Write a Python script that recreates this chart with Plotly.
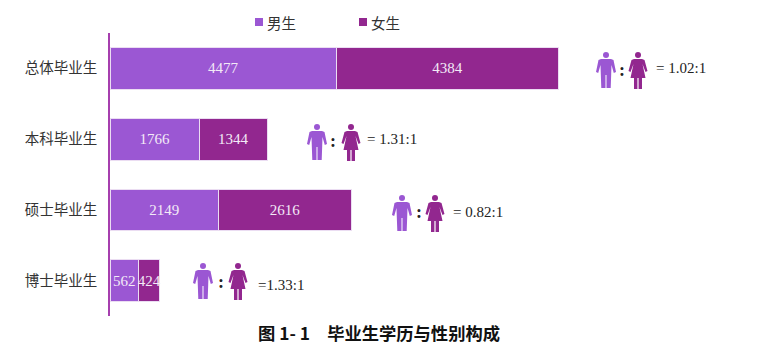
import plotly.graph_objects as go

categories = ["总体毕业生", "本科毕业生", "硕士毕业生", "博士毕业生"]
male = [4477, 1766, 2149, 562]
female = [4384, 1344, 2616, 424]
ratios = ["= 1.02:1", "= 1.31:1", "= 0.82:1", "=1.33:1"]
series_names = ["男生", "女生"]
title = "图 1- 1　毕业生学历与性别构成"

MALE_C = "#9B57D3"
FEMALE_C = "#92278F"
W, H = 763, 354
L, T, B = 110, 33, 38
CJK = "Noto Sans CJK SC"
SERIF = "Liberation Serif"

# decoration layout (pixels): man x, woman x, colon x, colon y, head y, ratio text x, ratio text y
icon_layout = [
    (606, 638, 622, 70, 55, 654, 68),
    (317, 351, 333, 141, 127, 365, 139),
    (402, 435, 419, 212, 198, 451, 212),
    (203, 238, 221, 282, 266, 256, 285),
]
legend_layout = [(255, MALE_C), (359, FEMALE_C)]

def px(x):
    return (x - L) / (W - L)

def py(y):
    return (H - B - y) / (H - B - T)

def path(points, cx, cy):
    parts = []
    for p in points:
        if p == "Z":
            parts.append("Z")
        else:
            parts.append(f"{p[0]} {px(cx + p[1]):.5f},{py(cy + p[2]):.5f}")
    return " ".join(parts)

MAN = [("M", -5, 4), ("L", 5, 4), ("L", 7.5, 5), ("L", 10, 17), ("L", 7.8, 18), ("L", 5.5, 10),
       ("L", 5.2, 19), ("L", 4.7, 33), ("L", 0.5, 33), ("L", 0.5, 20), ("L", -0.5, 20), ("L", -0.5, 33),
       ("L", -4.7, 33), ("L", -5.2, 19), ("L", -5.5, 10), ("L", -7.8, 18), ("L", -10, 17), ("L", -7.5, 5), "Z"]
WOMAN = [("M", -4, 4), ("L", 4, 4), ("L", 6.5, 5), ("L", 9.5, 16), ("L", 7.5, 17), ("L", 4.5, 9),
         ("L", 7.5, 23), ("L", 4, 23), ("L", 4, 34), ("L", 0.6, 34), ("L", 0.6, 23), ("L", -0.6, 23),
         ("L", -0.6, 34), ("L", -4, 34), ("L", -4, 23), ("L", -7.5, 23), ("L", -4.5, 9),
         ("L", -7.5, 17), ("L", -9.5, 16), ("L", -6.5, 5), "Z"]

fig = go.Figure()
fig.add_trace(go.Bar(name=series_names[0], y=categories, x=male, orientation="h", marker_color=MALE_C))
fig.add_trace(go.Bar(name=series_names[1], y=categories, x=female, orientation="h", marker_color=FEMALE_C))
fig.update_traces(
    texttemplate="%{x}", textposition="inside", insidetextanchor="middle", textangle=0,
    constraintext="none", cliponaxis=False,
    textfont=dict(family=SERIF, size=15, color="#F3EAF7"),
    marker_line=dict(color="#EBDDF2", width=1),
)

shapes, annotations = [], []
for (mx, wx, colon, colon_y, hy, tx, ty), ratio in zip(icon_layout, ratios):
    for cx, pts, col in ((mx, MAN, MALE_C), (wx, WOMAN, FEMALE_C)):
        shapes.append(dict(type="path", xref="paper", yref="paper", path=path(pts, cx, hy),
                           fillcolor=col, line_width=0))
        shapes.append(dict(type="circle", xref="paper", yref="paper",
                           x0=px(cx - 3), x1=px(cx + 3), y0=py(hy - 3), y1=py(hy + 3),
                           fillcolor=col, line_width=0))
    annotations.append(dict(xref="paper", yref="paper", x=px(colon), y=py(colon_y), text=":",
                            xanchor="center", yanchor="middle", showarrow=False,
                            font=dict(family=SERIF, size=18, color="#222222", weight="bold")))
    annotations.append(dict(xref="paper", yref="paper", x=px(tx), y=py(ty), text=ratio,
                            xanchor="left", yanchor="middle", showarrow=False,
                            font=dict(family=SERIF, size=15, color="#222222")))

for (lx, col), name in zip(legend_layout, series_names):
    shapes.append(dict(type="rect", xref="paper", yref="paper", x0=px(lx), x1=px(lx + 8),
                       y0=py(18), y1=py(26), fillcolor=col, line_width=0))
    annotations.append(dict(xref="paper", yref="paper", x=px(lx + 10), y=py(23), text=name,
                            xanchor="left", yanchor="middle", showarrow=False,
                            font=dict(family=CJK, size=14.5, color="#333333")))

fig.update_layout(
    width=W, height=H, barmode="stack", bargap=0.41,
    margin=dict(l=L, r=0, t=T, b=B, pad=0, autoexpand=False),
    paper_bgcolor="white", plot_bgcolor="white",
    showlegend=False,
    title=dict(text=title, x=379 / W, xanchor="center", xref="container",
               y=1 - 334 / H, yanchor="middle",
               font=dict(family=CJK, size=17.3, color="#111111", weight="bold")),
    xaxis=dict(range=[0, (W - L) / 0.0506], visible=False, fixedrange=True),
    yaxis=dict(autorange="reversed", showgrid=False, zeroline=False, ticks="", ticklabelstandoff=8,
               showline=True, linecolor="#A63FAE", linewidth=1.5, fixedrange=True,
               tickfont=dict(family=CJK, size=14.5, color="#333333")),
    shapes=shapes, annotations=annotations,
)

fig.write_html("out.html", config={"displayModeBar": False},
               post_script="document.body.style.margin='0';")
